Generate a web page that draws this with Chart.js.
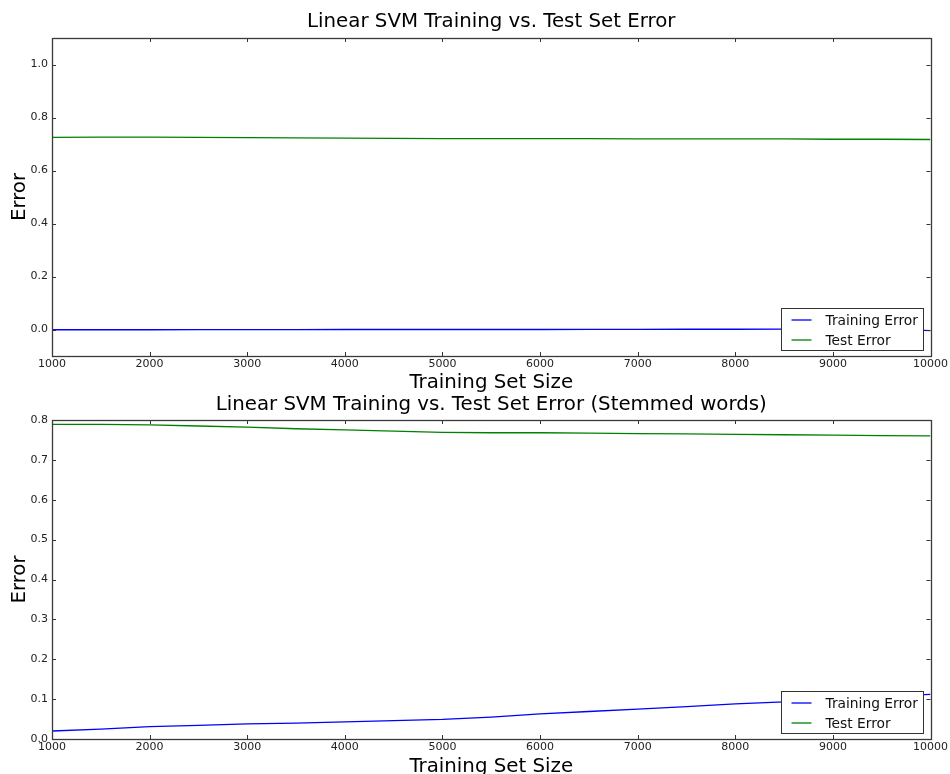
<!DOCTYPE html>
<html>
<head>
<meta charset="utf-8">
<script src="https://cdn.jsdelivr.net/npm/chart.js@4"></script>
<style>
  html, body { margin: 0; padding: 0; background: #fff; overflow: hidden; }
  #wrap { position: relative; width: 950px; height: 774px; }
  #c1 { position: absolute; left: 0; top: 0; }
  #c2 { position: absolute; left: 0; top: 392px; }
</style>
</head>
<body>
<div id="wrap">
  <canvas id="c1" width="950" height="394"></canvas>
  <canvas id="c2" width="950" height="385"></canvas>
</div>
<script>
// ukuran data latih (sumbu x)
const trainSizes = [1000, 1500, 2000, 2500, 3000, 3500, 4000, 4500, 5000, 5500,
                    6000, 6500, 7000, 7500, 8000, 8500, 9000, 9500, 10000];

// grafik atas: kata asli
const trainErrA = [-0.001, -0.001, -0.001, -0.0008, -0.0005, -0.0004, 0, 0, 0, 0,
                   0, 0.0004, 0.0005, 0.001, 0.001, 0.0015, 0.002, 0.002, -0.004];
const testErrA = [0.725, 0.726, 0.726, 0.725, 0.724, 0.723, 0.722, 0.721, 0.720, 0.720,
                  0.720, 0.720, 0.719, 0.719, 0.719, 0.719, 0.718, 0.718, 0.717];

// grafik bawah: kata stemmed
const trainErrB = [0.020, 0.025, 0.031, 0.034, 0.038, 0.040, 0.043, 0.046, 0.049, 0.055,
                   0.063, 0.069, 0.075, 0.081, 0.088, 0.093, 0.100, 0.107, 0.112];
const testErrB = [0.789, 0.789, 0.788, 0.785, 0.782, 0.778, 0.775, 0.772, 0.769, 0.768,
                  0.768, 0.767, 0.766, 0.765, 0.764, 0.763, 0.762, 0.761, 0.760];

// label tick
const xTicks = [1000, 2000, 3000, 4000, 5000, 6000, 7000, 8000, 9000, 10000];
const yTicksA = [0.0, 0.2, 0.4, 0.6, 0.8, 1.0];
const yTicksB = [0.0, 0.1, 0.2, 0.3, 0.4, 0.5, 0.6, 0.7, 0.8];

const FONT = "'DejaVu Sans', sans-serif";

// judul di tengah area plot (seperti matplotlib)
const titlePlugin = {
    id: 'axTitle',
    afterDraw(chart, args, opts) {
        const { ctx, chartArea: a } = chart;
        ctx.save();
        ctx.font = '19.8px ' + FONT;
        ctx.fillStyle = '#000';
        ctx.textAlign = 'center';
        ctx.textBaseline = 'middle';
        ctx.fillText(opts.text, (a.left + a.right) / 2, opts.y);
        ctx.restore();
    }
};

// bingkai + tick ke dalam di keempat sisi
const framePlugin = {
    id: 'frame',
    afterDraw(chart) {
        const { ctx, chartArea: a, scales } = chart;
        ctx.save();
        ctx.strokeStyle = '#333';
        ctx.lineWidth = 1;
        ctx.beginPath();
        scales.x.ticks.forEach(t => {
            const px = Math.round(scales.x.getPixelForValue(t.value)) + 0.5;
            ctx.moveTo(px, a.bottom); ctx.lineTo(px, a.bottom - 4);
            ctx.moveTo(px, a.top); ctx.lineTo(px, a.top + 4);
        });
        scales.y.ticks.forEach(t => {
            const py = Math.round(scales.y.getPixelForValue(t.value)) + 0.5;
            ctx.moveTo(a.left, py); ctx.lineTo(a.left + 4, py);
            ctx.moveTo(a.right, py); ctx.lineTo(a.right - 4, py);
        });
        ctx.stroke();
        ctx.strokeStyle = '#3a3a3a';
        ctx.lineWidth = 1.3;
        ctx.strokeRect(Math.round(a.left) + 0.5, Math.round(a.top) + 0.5,
                       Math.round(a.right - a.left), Math.round(a.bottom - a.top));
        ctx.restore();
    }
};

// legenda di kanan bawah, di dalam area plot
const legendPlugin = {
    id: 'boxLegend',
    afterDraw(chart) {
        const { ctx, chartArea: a } = chart;
        const w = 142, h = 42;
        const x = Math.round(a.right - 8 - w) + 0.5;
        const y = Math.round(a.bottom - 6 - h) + 0.5;
        ctx.save();
        ctx.fillStyle = '#fff';
        ctx.fillRect(x, y, w, h);
        ctx.strokeStyle = '#333';
        ctx.lineWidth = 1;
        ctx.strokeRect(x, y, w, h);
        ctx.font = '13.8px ' + FONT;
        ctx.textBaseline = 'middle';
        chart.data.datasets.forEach((ds, i) => {
            const ry = Math.round(y + 11 + i * 20);
            ctx.strokeStyle = ds.borderColor;
            ctx.lineWidth = 1.3;
            ctx.beginPath();
            ctx.moveTo(x + 10, ry);
            ctx.lineTo(x + 30, ry);
            ctx.stroke();
            ctx.fillStyle = '#111';
            ctx.fillText(ds.label, x + 44, ry + 1);
        });
        ctx.restore();
    }
};

function makeChart(id, title, titleY, padTop, trainErr, testErr, yMin, yMax, yTicks, xTitlePad) {
    return new Chart(document.getElementById(id), {
        type: 'line',
        data: {
            datasets: [
                {
                    label: 'Training Error',
                    data: trainSizes.map((s, i) => ({ x: s, y: trainErr[i] })),
                    borderColor: 'rgb(0, 0, 255)',
                    borderWidth: 1.3,
                    pointRadius: 0,
                    tension: 0
                },
                {
                    label: 'Test Error',
                    data: trainSizes.map((s, i) => ({ x: s, y: testErr[i] })),
                    borderColor: 'rgb(0, 128, 0)',
                    borderWidth: 1.3,
                    pointRadius: 0,
                    tension: 0
                }
            ]
        },
        options: {
            responsive: false,
            animation: false,
            layout: { padding: { right: 18, top: padTop } },
            plugins: {
                legend: { display: false },
                tooltip: { enabled: false },
                title: { display: false },
                axTitle: { text: title, y: titleY }
            },
            scales: {
                x: {
                    type: 'linear',
                    min: 1000,
                    max: 10000,
                    afterBuildTicks: s => { s.ticks = xTicks.map(v => ({ value: v })); },
                    afterFit: s => { s.height = 38; },
                    grid: { display: false, drawTicks: false },
                    border: { display: false },
                    ticks: {
                        padding: 2,
                        color: '#222',
                        font: { family: FONT, size: 11 },
                        maxRotation: 0,
                        callback: v => String(v)
                    },
                    title: {
                        display: true,
                        text: 'Training Set Size',
                        color: '#000',
                        font: { family: FONT, size: 19.8 },
                        padding: { top: 0, bottom: xTitlePad }
                    }
                },
                y: {
                    min: yMin,
                    max: yMax,
                    afterBuildTicks: s => { s.ticks = yTicks.map(v => ({ value: v })); },
                    afterFit: s => { s.width = 52; },
                    grid: { display: false, drawTicks: false },
                    border: { display: false },
                    ticks: {
                        padding: 4,
                        color: '#222',
                        font: { family: FONT, size: 11 },
                        callback: v => v.toFixed(1)
                    },
                    title: {
                        display: true,
                        text: 'Error',
                        color: '#000',
                        font: { family: FONT, size: 19.8 },
                        padding: { top: 8, bottom: 0 }
                    }
                }
            }
        },
        plugins: [framePlugin, legendPlugin, titlePlugin]
    });
}

makeChart('c1', 'Linear SVM Training vs. Test Set Error', 22, 38,
          trainErrA, testErrA, -0.1, 1.1, yTicksA, -1);
makeChart('c2', 'Linear SVM Training vs. Test Set Error (Stemmed words)', 13, 28,
          trainErrB, testErrB, 0, 0.8, yTicksB, -2);
</script>
</body>
</html>
